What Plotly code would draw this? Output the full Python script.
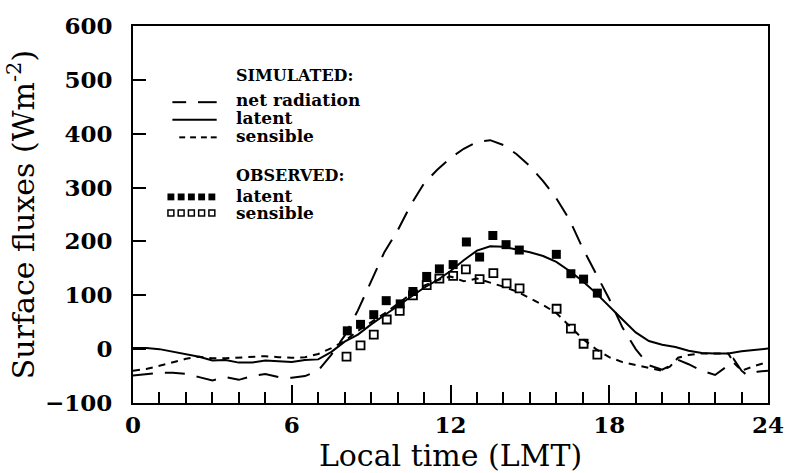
import plotly.graph_objects as go

# Simulated diurnal cycle (hour of day, W m-2)
sim_t = [0, 0.5, 1, 1.5, 2, 2.5, 3, 3.5, 4, 4.5, 5, 5.5, 6, 6.5, 7, 7.5, 8, 8.5,
         9, 9.5, 10, 10.5, 11, 11.5, 12, 12.5, 13, 13.5, 14, 14.5, 15, 15.5, 16,
         16.5, 17, 17.5, 18, 18.5, 19, 19.5, 20, 20.5, 21, 21.5, 22, 22.5, 23,
         23.5, 24]
latent_sim = [2, 2, 0, -5, -10, -14, -21, -20, -25, -25, -21, -22, -24, -20, -19,
              -5, 14, 27, 46, 63, 80, 97, 114, 128, 145, 165, 183, 191, 190, 185,
              180, 173, 162, 145, 126, 104, 79, 55, 31, 15, 8, 4, -3, -7, -8, -8,
              -4, -1, 1]

sens_t = [0, 0.5, 1, 1.5, 2, 2.5, 3, 3.5, 4, 4.5, 5, 5.5, 6, 6.5, 7, 7.5, 8, 8.5,
          9, 9.5, 10, 10.5, 11, 11.5, 12, 12.5, 13, 13.5, 14, 14.5, 15, 15.5, 16,
          16.5, 17, 17.5, 18, 18.5, 19, 19.5, 20, 20.3, 20.6, 21, 21.5, 22, 22.5,
          22.7, 23, 23.5, 24]
sensible_sim = [-40, -37, -31, -24, -18, -14, -17, -17, -16, -14, -13, -15, -16,
                -15, -9, 2, 15, 34, 50, 66, 84, 102, 118, 128, 135, 126, 131, 124,
                116, 107, 94, 82, 67, 43, 19, 0, -15, -24, -29, -34, -40, -32, -16,
                -11, -8, -8, -8, -25, -40, -31, -24]

rn_t = [0, 0.5, 1, 1.5, 2, 2.5, 3, 3.5, 4, 4.5, 5, 5.5, 6, 6.5, 7, 7.5, 8, 8.5,
        9, 9.5, 10, 10.5, 11, 11.5, 12, 12.5, 13, 13.5, 14, 14.5, 15, 15.5, 16,
        16.5, 17, 17.5, 18, 18.5, 19, 19.5, 20, 20.4, 20.6, 21, 21.5, 22, 22.5,
        22.7, 23, 23.2, 23.6, 24]
netrad_sim = [-49, -47, -44, -44, -46, -52, -58, -52, -57, -50, -46, -52, -53,
              -50, -40, -10, 25, 72, 125, 180, 220, 268, 308, 333, 355, 372, 385,
              388, 379, 362, 340, 312, 280, 240, 187, 140, 93, 40, 0, -30, -38,
              -28, -20, -28, -40, -48, -30, -18, -40, -48, -42, -40]

# Observations
obs_t_lat = [8.1, 8.6, 9.1, 9.57, 10.1, 10.58, 11.1, 11.58, 12.1, 12.6, 13.1,
             13.6, 14.1, 14.6, 16.0, 16.55, 17.03, 17.55]
latent_obs = [34, 46, 64, 90, 84, 107, 135, 149, 157, 199, 171, 211, 194, 184,
              176, 140, 130, 104]

obs_t_sen = [8.07, 8.6, 9.1, 9.59, 10.08, 10.58, 11.1, 11.58, 12.1, 12.58, 13.1,
             13.62, 14.12, 14.61, 16.01, 16.55, 17.03, 17.55]
sensible_obs = [-14, 7, 27, 55, 71, 100, 119, 131, 136, 148, 130, 141, 122, 113,
                75, 38, 10, -10]

x_ticks = [0, 6, 12, 18, 24]
y_ticks = [-100, 0, 100, 200, 300, 400, 500, 600]

SERIF = "DejaVu Serif"

W, H = 796, 473
L, R, T, B = 133, 18, 17, 70

fig = go.Figure()
fig.add_trace(go.Scatter(x=rn_t, y=netrad_sim, mode="lines",
                         line=dict(color="black", width=2, dash="20px,12px")))
fig.add_trace(go.Scatter(x=sim_t, y=latent_sim, mode="lines",
                         line=dict(color="black", width=2)))
fig.add_trace(go.Scatter(x=sens_t, y=sensible_sim, mode="lines",
                         line=dict(color="black", width=2, dash="7px,6px")))
fig.add_trace(go.Scatter(x=obs_t_lat, y=latent_obs, mode="markers",
                         marker=dict(symbol="square", size=9, color="black",
                                     line=dict(width=0))))
fig.add_trace(go.Scatter(x=obs_t_sen, y=sensible_obs, mode="markers",
                         marker=dict(symbol="square-open", size=8, color="black",
                                     line=dict(width=1.8))))

tick_font = dict(family=SERIF, size=23, color="black", weight="bold")
title_font = dict(family=SERIF, size=30, color="black")

fig.update_xaxes(range=[0, 24], tickvals=x_ticks, ticks="inside", ticklen=18,
                 tickwidth=2, tickcolor="black", showline=True,
                 linewidth=2, linecolor="black", mirror=True, showgrid=False,
                 zeroline=False, tickfont=tick_font,
                 minor=dict(dtick=1, ticks="inside", ticklen=11, tickwidth=2,
                            tickcolor="black", showgrid=False),
                 title=dict(text="Local time (LMT)", standoff=0, font=title_font))
fig.update_yaxes(range=[-100, 600], tickvals=y_ticks, ticks="inside", ticklen=13,
                 tickwidth=2, tickcolor="black", showline=True,
                 linewidth=2, linecolor="black", mirror=True, showgrid=False,
                 zeroline=False, tickfont=tick_font, ticklabelstandoff=14,
                 title=dict(text="Surface fluxes (Wm<sup>-2</sup>)", standoff=2,
                            font=title_font))

shapes = []
pw, ph = W - L - R, H - T - B


# Legend block (paper coordinates)
def px(x):
    return (x - L) / pw


def py(y):
    return (H - B - y) / ph


annotations = []


def text(x, y, s, size=17):
    annotations.append(dict(x=px(x), y=py(y), xref="paper", yref="paper",
                            text="<b>" + s + "</b>", showarrow=False,
                            xanchor="left", yanchor="middle",
                            font=dict(family=SERIF, size=size, color="black")))


def seg(x0, x1, y, w=2):
    shapes.append(dict(type="line", xref="paper", yref="paper",
                       x0=px(x0), x1=px(x1), y0=py(y), y1=py(y),
                       line=dict(color="black", width=w)))


text(236, 68, "SIMULATED:", 16)
text(236, 93, "net radiation")
seg(173, 187, 95)
seg(199, 218, 95)
text(236, 111, "latent")
seg(173, 218, 113)
text(236, 130, "sensible")
for x0 in (180, 191, 202, 212):
    seg(x0, x0 + 6, 131)
text(236, 170, "OBSERVED:", 16)
text(236, 191, "latent")
text(236, 208, "sensible")
for i in range(5):
    x0 = 168 + i * 10.4
    shapes.append(dict(type="rect", xref="paper", yref="paper",
                       x0=px(x0), x1=px(x0 + 7), y0=py(188.5), y1=py(195.5),
                       fillcolor="black", line=dict(width=0)))
    shapes.append(dict(type="rect", xref="paper", yref="paper",
                       x0=px(x0 + 0.5), x1=px(x0 + 6.5), y0=py(205.5), y1=py(211.5),
                       fillcolor="white", line=dict(color="black", width=1.5)))

fig.update_layout(width=W, height=H, showlegend=False,
                  margin=dict(l=L, r=R, t=T, b=B),
                  paper_bgcolor="white", plot_bgcolor="white",
                  shapes=shapes, annotations=annotations)

fig.write_html("out.html")
